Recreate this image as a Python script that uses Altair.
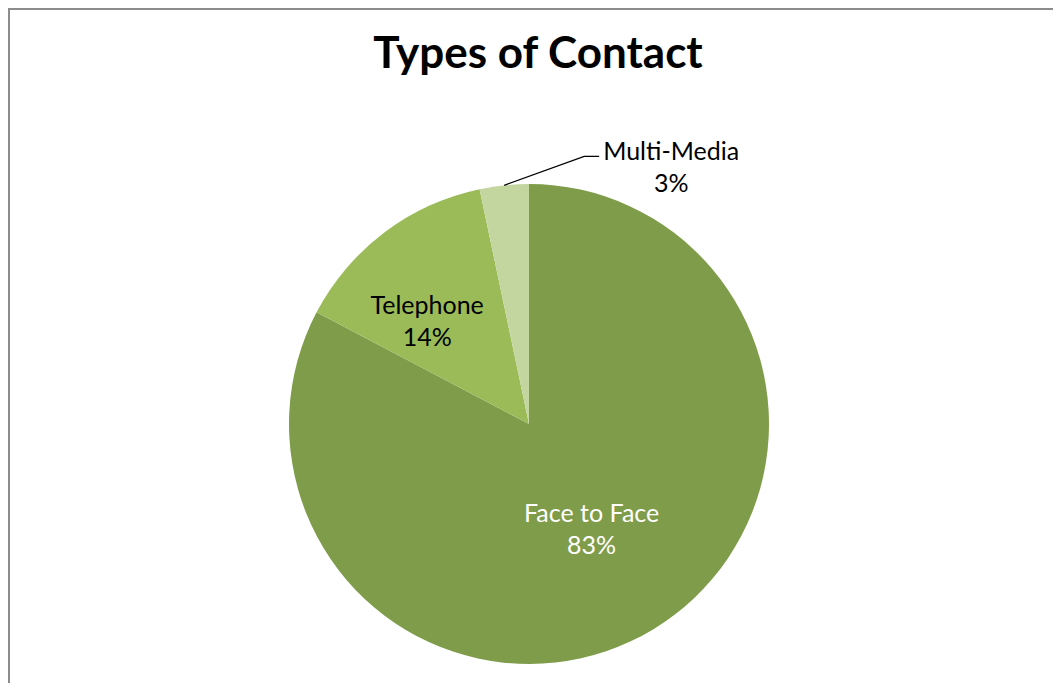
import math
import altair as alt
import pandas as pd

# ---- data ----
categories = ["Face to Face", "Telephone", "Multi-Media"]
values = [82.7, 14.0, 3.3]
colors = ["#7F9C4A", "#9BBB59", "#C4D6A0"]
title_text = "Types of Contact"

total = sum(values)
pct_labels = [f"{round(v / total * 100)}%" for v in values]

df = pd.DataFrame({
    "category": categories,
    "value": values,
    "order": list(range(len(categories))),
    "label": [f"{c}\n{p}" for c, p in zip(categories, pct_labels)],
})

# ---- layout (pixels, chart coordinates) ----
W, H = 1045, 675
CX, CY, R = 521, 416, 240
FONT = "Lato"

theta_scale = alt.Scale(domain=[0, total])

pie = alt.Chart(df).mark_arc(outerRadius=R, stroke=None).encode(
    theta=alt.Theta("value:Q", stack=True, scale=theta_scale),
    order=alt.Order("order:Q"),
    x=alt.value(CX),
    y=alt.value(CY),
    color=alt.Color("category:N",
                    scale=alt.Scale(domain=categories, range=colors),
                    legend=None),
)

# label base: cumulative mid value of each slice, computed before filtering
lbl_base = alt.Chart(df).transform_window(
    cum="sum(value)", sort=[alt.SortField("order")]
).transform_calculate(
    mid="datum.cum - datum.value / 2"
).encode(
    theta=alt.Theta("mid:Q", stack=None, scale=theta_scale),
    x=alt.value(CX),
    y=alt.value(CY),
    text="label:N",
)

text_common = dict(font=FONT, fontSize=25, lineBreak="\n", align="center",
                   baseline="middle", lineHeight=32)

face_lbl = lbl_base.transform_filter(alt.datum.category == "Face to Face").mark_text(
    radius=123, dx=-1, dy=-15, color="white", **text_common
)

tel_lbl = lbl_base.transform_filter(alt.datum.category == "Telephone").mark_text(
    radius=144, dx=-15, dy=-3, color="black", **text_common
)

# leader line for Multi-Media, anchored at the slice's mid angle on the rim
cum = 0.0
mids = []
for v in values:
    mids.append((cum + v / 2) / total * 2 * math.pi)
    cum += v
a = mids[2]
ex, ey = CX + R * math.sin(a), CY - R * math.cos(a)
kx, ky = ex + 80, ey - 29
fx, fy = kx + 15, ky
leader_df = pd.DataFrame({"px": [ex, kx, fx], "py": [ey, ky, fy], "i": [0, 1, 2]})
leader = alt.Chart(leader_df).mark_line(color="black", strokeWidth=1.3).encode(
    x=alt.X("px:Q", scale=None, axis=None),
    y=alt.Y("py:Q", scale=None, axis=None),
    order="i:Q",
)

mm_df = pd.DataFrame({"label": [df["label"][2]]})
mm_lbl = alt.Chart(mm_df).mark_text(color="black", **text_common).encode(
    text="label:N",
    x=alt.value(fx + 72),
    y=alt.value(fy - 4),
)

title_df = pd.DataFrame({"t": [title_text]})
title = alt.Chart(title_df).mark_text(
    font=FONT, fontSize=44, fontWeight="bold", color="black",
    align="center", baseline="alphabetic"
).encode(text="t:N", x=alt.value(530), y=alt.value(60))

border_df = pd.DataFrame({"k": [0]})
top_border = alt.Chart(border_df).mark_rule(color="#8C8C8C", strokeWidth=2).encode(
    x=alt.value(0), x2=alt.value(W), y=alt.value(1)
)
left_border = alt.Chart(border_df).mark_rule(color="#8C8C8C", strokeWidth=2).encode(
    x=alt.value(1), y=alt.value(0), y2=alt.value(H)
)

chart = alt.layer(
    pie, face_lbl, tel_lbl, leader, mm_lbl, title, top_border, left_border
).properties(
    width=W, height=H,
    autosize=alt.AutoSizeParams(type="none"),
    padding=0,
).configure_view(stroke=None).configure(background="white")

chart.save("out.html", embed_options={"renderer": "svg", "actions": False})
